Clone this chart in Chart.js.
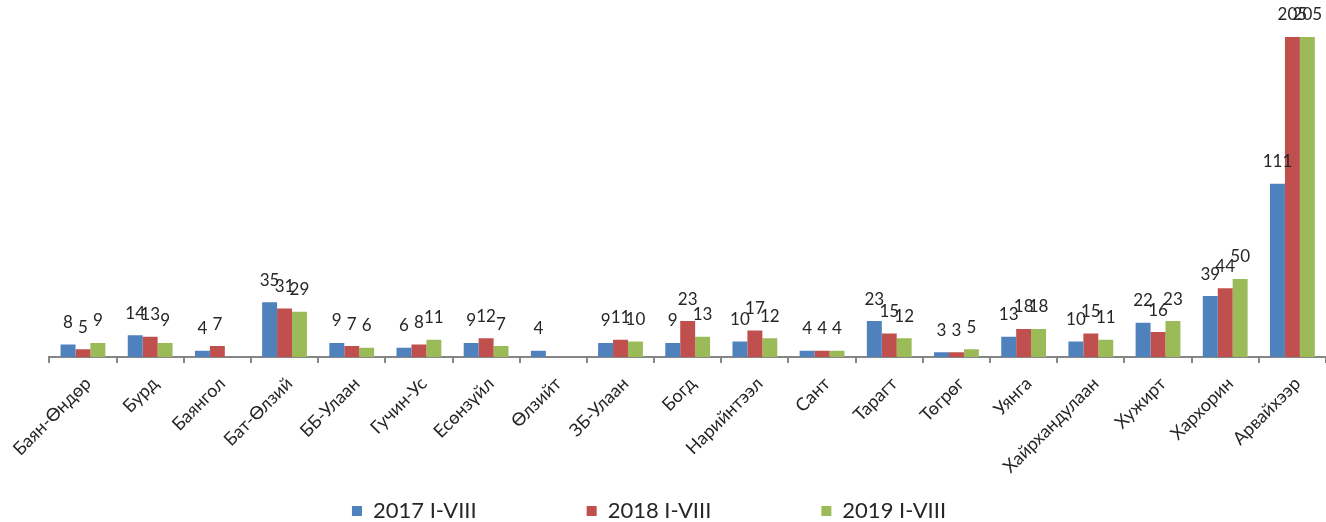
<!DOCTYPE html>
<html>
<head>
<meta charset="utf-8">
<script src="https://cdn.jsdelivr.net/npm/chart.js@4/dist/chart.umd.min.js"></script>
<style>
  html, body { margin: 0; padding: 0; background: #fff; }
  #wrap { width: 1326px; height: 522px; position: relative; }
</style>
</head>
<body>
<div id="wrap"><canvas id="chart"></canvas></div>
<script>
// Сумууд
const categories = ['Баян-Өндөр', 'Бурд', 'Баянгол', 'Бат-Өлзий', 'ББ-Улаан', 'Гучин-Ус', 'Есөнзүйл', 'Өлзийт',
  'ЗБ-Улаан', 'Богд', 'Нарийнтээл', 'Сант', 'Тарагт', 'Төгрөг', 'Уянга', 'Хайрхандулаан', 'Хужирт', 'Хархорин', 'Арвайхээр'];

const seriesNames = ['2017 I-VIII', '2018 I-VIII', '2019 I-VIII'];

const values2017 = [8, 14, 4, 35, 9, 6, 9, 4, 9, 9, 10, 4, 23, 3, 13, 10, 22, 39, 111];
const values2018 = [5, 13, 7, 31, 7, 8, 12, null, 11, 23, 17, 4, 15, 3, 18, 15, 16, 44, 205];
const values2019 = [9, 9, null, 29, 6, 11, 7, null, 10, 13, 12, 4, 12, 5, 18, 11, 23, 50, 205];

const yMax = 205;

const colors = ['#4F81BD', '#C0504D', '#9BBB59'];

// Утгын шошго баганын дээр
const valueLabels = {
  id: 'valueLabels',
  afterDatasetsDraw(chart) {
    const ctx = chart.ctx;
    ctx.save();
    ctx.font = '17px Lato';
    ctx.fillStyle = '#262626';
    ctx.textAlign = 'center';
    ctx.textBaseline = 'middle';
    chart.data.datasets.forEach((ds, i) => {
      const meta = chart.getDatasetMeta(i);
      meta.data.forEach((bar, j) => {
        const v = ds.data[j];
        if (v === null || v === undefined) return;
        ctx.fillText(String(v), bar.x, bar.y - 22);
      });
    });
    ctx.restore();
  }
};

// Доод талын тайлбар
const bottomLegend = {
  id: 'bottomLegend',
  afterDraw(chart) {
    const ctx = chart.ctx;
    ctx.save();
    ctx.font = '22px Lato';
    ctx.textBaseline = 'middle';
    ctx.textAlign = 'left';
    const box = 10, gapText = 11, gapItem = 110;
    const items = chart.data.datasets.map(ds => ({
      text: ds.label, color: ds.backgroundColor,
      w: box + gapText + ctx.measureText(ds.label).width
    }));
    const total = items.reduce((s, it) => s + it.w, 0) + gapItem * (items.length - 1);
    let x = chart.width / 2 - 14 - total / 2;
    const y = 511;
    items.forEach(it => {
      ctx.fillStyle = it.color;
      ctx.fillRect(x, y - box / 2, box, box);
      ctx.fillStyle = '#262626';
      ctx.fillText(it.text, x + box + gapText, y);
      x += it.w + gapItem;
    });
    ctx.restore();
  }
};

const ctx = document.getElementById('chart');

new Chart(ctx, {
  type: 'bar',
  data: {
    labels: categories,
    datasets: [
      { label: seriesNames[0], data: values2017, backgroundColor: colors[0] },
      { label: seriesNames[1], data: values2018, backgroundColor: colors[1] },
      { label: seriesNames[2], data: values2019, backgroundColor: colors[2] }
    ]
  },
  options: {
    responsive: true,
    maintainAspectRatio: false,
    animation: false,
    devicePixelRatio: 1,
    layout: {
      padding: { left: 49, right: 0, top: 37, bottom: 0 }
    },
    datasets: {
      bar: {
        categoryPercentage: 0.667,
        barPercentage: 1.0,
        borderWidth: 0
      }
    },
    plugins: {
      legend: { display: false },
      tooltip: { enabled: false }
    },
    scales: {
      x: {
        offset: true,
        grid: {
          offset: true,
          drawOnChartArea: false,
          drawTicks: true,
          tickLength: 6,
          color: '#868686',
          lineWidth: 2
        },
        border: { display: true, color: '#868686', width: 2 },
        ticks: {
          autoSkip: false,
          maxRotation: 45,
          minRotation: 45,
          padding: 10,
          labelOffset: 5,
          color: '#262626',
          font: { family: 'Lato', size: 18 }
        },
        afterFit(scale) {
          scale.height = 165;
        }
      },
      y: {
        display: false,
        min: 0,
        max: yMax
      }
    }
  },
  plugins: [valueLabels, bottomLegend]
});
</script>
</body>
</html>
